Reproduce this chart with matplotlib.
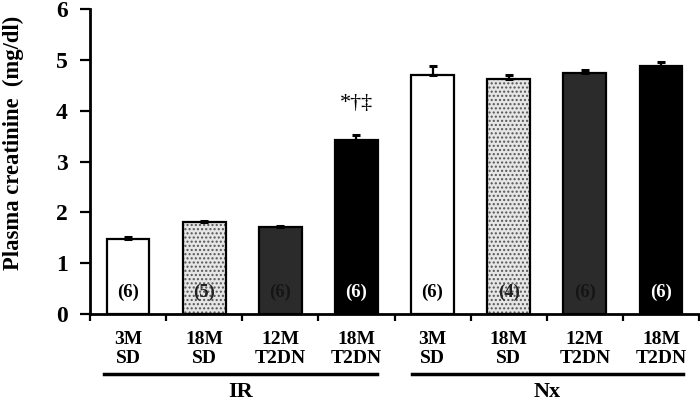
import numpy as np
import matplotlib
matplotlib.use("Agg")
import matplotlib.pyplot as plt

plt.rcParams['font.family'] = ['Liberation Serif', 'DejaVu Serif']
plt.rcParams['font.weight'] = 'bold'
plt.rcParams['axes.labelweight'] = 'bold'

# data
groups = ["IR", "Nx"]
cats = ["3M\nSD", "18M\nSD", "12M\nT2DN", "18M\nT2DN"] * 2
values = [1.48, 1.81, 1.72, 3.43, 4.70, 4.63, 4.75, 4.87]
errors = [0.03, 0.02, 0.02, 0.09, 0.17, 0.07, 0.05, 0.09]
n_labels = ["(6)", "(5)", "(6)", "(6)", "(6)", "(4)", "(6)", "(6)"]
sig_text = "*\u2020\u2021"

fills = ["white", "#e6e6e6", "#2b2b2b", "black"] * 2
hatches = [None, "....", None, None] * 2
ncolors = ["black", "#222222", "#151515", "white"] * 2

fig = plt.figure(figsize=(7.0, 4.01), dpi=100)
ax = fig.add_axes([90/700, 87/401, 609/700, 305/401])

x = np.arange(len(values)) + 0.5
w = 0.56
for i in range(len(values)):
    if hatches[i]:
        ax.bar(x[i], values[i], w, color=fills[i], hatch=hatches[i],
               edgecolor="#555555", linewidth=0, zorder=2)
        ax.bar(x[i], values[i], w, fill=False, edgecolor="black",
               linewidth=1.6, zorder=3)
    else:
        ax.bar(x[i], values[i], w, color=fills[i], edgecolor="black",
               linewidth=1.6, zorder=2)
ax.errorbar(x, values, yerr=[np.zeros(len(errors)), errors], fmt="none",
            ecolor="black", elinewidth=1.6, capsize=3.2, capthick=2.2, zorder=4)

for i in range(len(values)):
    ax.text(x[i], 0.43, n_labels[i], ha="center", va="center",
            fontsize=13.5, color=ncolors[i], zorder=5)

ax.text(x[3], 4.14, sig_text, ha="center", va="center", fontsize=16,
        fontweight="normal")

ax.set_xlim(0, 8)
ax.set_ylim(0, 6)
ax.set_yticks(range(7))
ax.set_yticklabels([str(v) for v in range(7)], fontsize=17)
ax.set_xticks(np.arange(9))
ax.set_xticklabels([])
ax.set_xticks(x, minor=True)
ax.set_xticklabels(cats, minor=True, fontsize=14, linespacing=1.15)
ax.tick_params(axis="x", which="minor", length=0, pad=12)
ax.tick_params(axis="x", which="major", length=5, width=1.6, direction="out")
ax.tick_params(axis="y", length=7, width=1.6, direction="out", pad=9)

for s in ["top", "right"]:
    ax.spines[s].set_visible(False)
for s in ["left", "bottom"]:
    ax.spines[s].set_linewidth(2)

ax.set_ylabel("Plasma creatinine  (mg/dl)", fontsize=16.3, fontweight="bold")
ax.yaxis.set_label_coords(-0.108, 0.56)

trans = ax.get_xaxis_transform()
spans = [(0.18, 3.77), (4.23, 7.79)]
for (a, b), g in zip(spans, groups):
    ax.plot([a, b], [-0.197, -0.197], color="black", lw=2.5,
            transform=trans, clip_on=False)
    ax.text((a + b) / 2, -0.255, g, ha="center", va="center", fontsize=16,
            transform=trans)

plt.savefig("out.png", dpi=100)
